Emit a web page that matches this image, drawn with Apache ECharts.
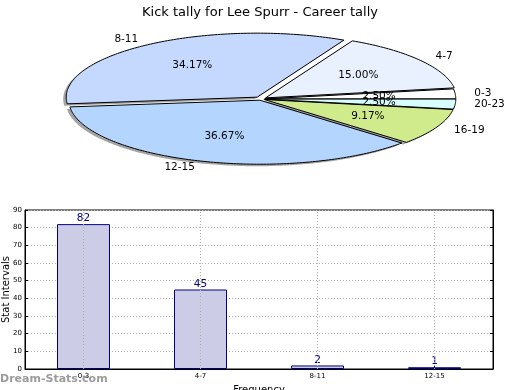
<!DOCTYPE html>
<html>
<head>
<meta charset="utf-8">
<script src="https://cdn.jsdelivr.net/npm/echarts@6/dist/echarts.min.js"></script>
<style>html,body{margin:0;padding:0;background:#fff}#c{width:520px;height:390px}</style>
</head>
<body>
<div id="c"></div>
<script>
// ---- data ----
const titleText = 'Kick tally for Lee Spurr - Career tally';
const sliceNames = ['0-3', '4-7', '8-11', '12-15', '16-19', '20-23'];
const sliceValues = [3, 18, 41, 44, 11, 3];
const barCategories = ['0-3', '4-7', '8-11', '12-15'];
const barValues = [82, 45, 2, 1];
const yTicks = [0, 10, 20, 30, 40, 50, 60, 70, 80, 90];

// ---- styles ----
const sliceColors = ['#ffffff', '#eaf1fe', '#c5d8fd', '#b4d5fe', '#d0eb8c', '#d8fdfe'];
const sliceExplode = [0.02, 0.03, 0.035, 0.02, 0.02, 0.02];
const PIE = { cx: 261, cy: 99, rx: 191, ry: 64 };
const FONT = 'DejaVu Sans';

const total = sliceValues.reduce((a, b) => a + b, 0);
function geom(i) {
  let start = 0;
  for (let k = 0; k < i; k++) start += sliceValues[k];
  const a0 = start / total * 2 * Math.PI;
  const a1 = (start + sliceValues[i]) / total * 2 * Math.PI;
  const mid = (a0 + a1) / 2;
  const e = sliceExplode[i];
  const ox = e * PIE.rx * Math.cos(mid), oy = -e * PIE.ry * Math.sin(mid);
  return { a0, a1, mid, ox, oy };
}
function points(i, dx, dy) {
  const g = geom(i);
  const cx = PIE.cx + g.ox + dx, cy = PIE.cy + g.oy + dy;
  const pts = [[cx, cy]];
  const n = Math.max(4, Math.ceil((g.a1 - g.a0) / (Math.PI / 180)));
  for (let s = 0; s <= n; s++) {
    const a = g.a0 + (g.a1 - g.a0) * s / n;
    pts.push([cx + PIE.rx * Math.cos(a), cy - PIE.ry * Math.sin(a)]);
  }
  return pts;
}

const chart = echarts.init(document.getElementById('c'), null, { renderer: 'canvas' });
chart.setOption({
  animation: false,
  title: {
    text: titleText, left: 'center', top: 1,
    textStyle: { fontFamily: FONT, fontSize: 13, fontWeight: 'normal', color: '#000' }
  },
  graphic: [{
    type: 'text', left: 0, top: 374,
    style: { text: 'Dream-Stats.com', fontFamily: FONT, fontSize: 11, fontWeight: 'bold', fill: 'rgba(130,130,130,0.8)' }
  }],
  grid: {
    left: 25, right: 27, top: 210, bottom: 21,
    outerBoundsMode: 'none', containLabel: false,
    show: true, borderColor: '#000', borderWidth: 1, backgroundColor: 'transparent'
  },
  xAxis: {
    type: 'category', data: barCategories,
    name: 'Frequency', nameLocation: 'middle', nameGap: 16, nameMoveOverlap: false,
    nameTextStyle: { fontFamily: FONT, fontSize: 10, color: '#000' },
    axisLine: { lineStyle: { color: '#000' } },
    axisTick: { show: true, inside: true, alignWithLabel: true, length: 3, lineStyle: { color: '#000' } },
    axisLabel: { fontFamily: FONT, fontSize: 7, color: '#000', margin: 4 },
    splitLine: { show: false }
  },
  yAxis: [{
    type: 'value', min: 0, max: 90, interval: 10,
    name: 'Stat Intervals', nameLocation: 'middle', nameGap: 14, nameRotate: 90, nameMoveOverlap: false,
    nameTextStyle: { fontFamily: FONT, fontSize: 10, color: '#000' },
    axisLine: { show: true, lineStyle: { color: '#000' } },
    axisTick: { show: true, inside: true, length: 3, lineStyle: { color: '#000' } },
    axisLabel: { fontFamily: FONT, fontSize: 7, color: '#000', margin: 3,
      formatter: v => (yTicks.indexOf(v) >= 0 ? String(v) : '') },
    splitLine: { show: true, lineStyle: { color: '#b0b0b0', type: [1, 2], width: 1 } }
  }, {
    type: 'value', min: 0, max: 90, interval: 10, position: 'right',
    axisLine: { show: true, lineStyle: { color: '#000' } },
    axisTick: { show: true, inside: true, length: 3, lineStyle: { color: '#000' } },
    axisLabel: { show: false }, splitLine: { show: false }
  }],
  series: [{
    type: 'bar', data: barValues, barWidth: 53,
    itemStyle: { color: '#cccce6', borderColor: '#000080', borderWidth: 1 },
    label: { show: true, position: 'top', distance: 0, fontFamily: FONT, fontSize: 10.5, color: '#000080' },
    markLine: {
      silent: true, symbol: 'none', label: { show: false },
      lineStyle: { color: '#b0b0b0', type: [1, 2], width: 1 },
      data: barCategories.map(c => ({ xAxis: c }))
    },
    z: 2
  }, {
    type: 'custom', coordinateSystem: 'none', data: sliceValues, z: 1,
    renderItem: function (params, api) {
      const i = params.dataIndex;
      return { type: 'polygon', shape: { points: points(i, -3, 2) },
        style: { fill: 'rgba(90,90,90,0.55)', stroke: null } };
    }
  }, {
    type: 'custom', coordinateSystem: 'none', data: sliceValues, z: 3,
    renderItem: function (params, api) {
      const i = params.dataIndex;
      const v = api.value(0);
      const g = geom(i);
      const cx = PIE.cx + g.ox, cy = PIE.cy + g.oy;
      const cm = Math.cos(g.mid), sm = Math.sin(g.mid);
      return {
        type: 'group',
        children: [{
          type: 'polygon', shape: { points: points(i, 0, 0) },
          style: { fill: sliceColors[i], stroke: '#000', lineWidth: 1 }
        }, {
          type: 'text', z2: 10,
          style: {
            text: (v / total * 100).toFixed(2) + '%',
            x: cx + 0.6 * PIE.rx * cm, y: cy - 0.6 * PIE.ry * sm,
            align: 'center', verticalAlign: 'middle',
            fontFamily: FONT, fontSize: 10.5, fill: '#000'
          }
        }, {
          type: 'text', z2: 10,
          style: {
            text: sliceNames[i],
            x: cx + 1.1 * PIE.rx * cm, y: cy - 1.1 * PIE.ry * sm,
            align: cm >= 0 ? 'left' : 'right', verticalAlign: 'middle',
            fontFamily: FONT, fontSize: 10.5, fill: '#000'
          }
        }]
      };
    }
  }]
});
</script>
</body>
</html>
